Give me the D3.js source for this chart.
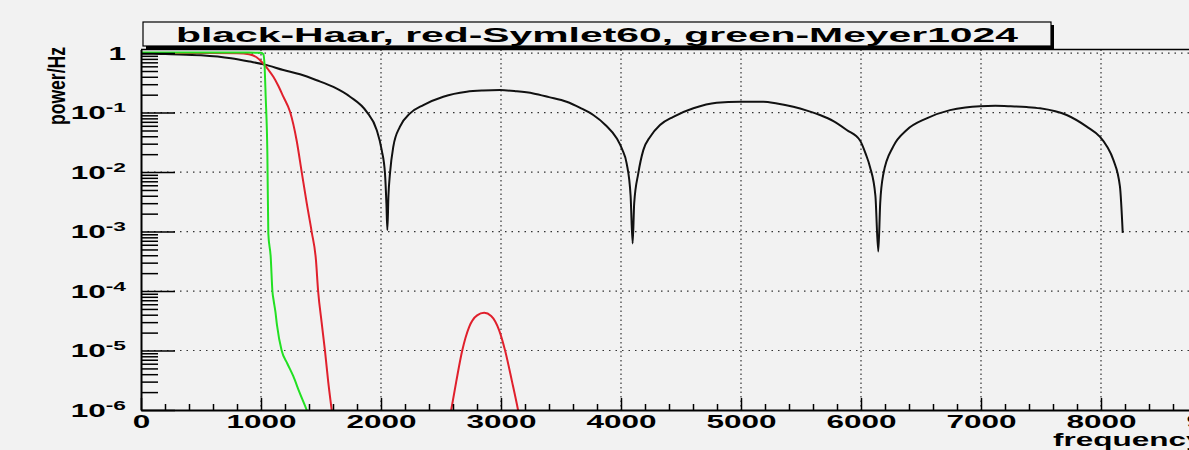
<!DOCTYPE html>
<html>
<head>
<meta charset="utf-8">
<script src="https://cdn.jsdelivr.net/npm/d3@7"></script>
<style>
  body { margin: 0; background: #f2f2f2; }
  svg { display: block; }
  text { font-family: "Liberation Sans", Arial, sans-serif; font-weight: bold; fill: #000; }
</style>
</head>
<body>
<svg id="chart"></svg>
<script>
// Data: [frequency, power/Hz]
const haarPoints = [
  [0, 0.98], [100, 0.98], [250, 0.96], [500, 0.92], [750, 0.82], [908, 0.72],
  [1033, 0.64], [1186, 0.52], [1325, 0.44], [1464, 0.35], [1603, 0.27], [1742, 0.185],
  [1881, 0.103], [1964, 0.051], [2006, 0.0234], [2033, 0.0096], [2045, 0.003], [2053, 0.00106],
  [2062, 0.004], [2075, 0.0096], [2103, 0.027], [2158, 0.058], [2242, 0.097], [2353, 0.134],
  [2519, 0.185], [2714, 0.224], [2850, 0.235], [2992, 0.239], [3130, 0.228], [3269, 0.21],
  [3400, 0.182], [3547, 0.152], [3660, 0.12], [3769, 0.091], [3870, 0.062], [3964, 0.037],
  [4010, 0.024], [4047, 0.014], [4080, 0.004], [4097, 0.00063], [4110, 0.003], [4144, 0.0095],
  [4186, 0.0234], [4242, 0.039], [4325, 0.062], [4436, 0.085], [4603, 0.118], [4797, 0.146],
  [4992, 0.152], [5186, 0.152], [5300, 0.142], [5436, 0.125], [5550, 0.108], [5658, 0.091],
  [5770, 0.072], [5881, 0.051], [5992, 0.034], [6040, 0.02], [6075, 0.0122], [6120, 0.004],
  [6144, 0.00046], [6160, 0.003], [6186, 0.0092], [6269, 0.027], [6381, 0.051], [6547, 0.08],
  [6742, 0.11], [6870, 0.122], [6992, 0.128], [7120, 0.13], [7242, 0.128], [7380, 0.124],
  [7492, 0.118], [7714, 0.091], [7881, 0.058], [7992, 0.039], [8050, 0.027], [8103, 0.016],
  [8158, 0.0057], [8181, 0.00095]
];

const symletPoints = [
  [0, 1.0], [300, 1.0], [600, 1.0], [800, 0.99], [900, 0.96], [960, 0.86], [1019, 0.67],
  [1060, 0.53], [1103, 0.4], [1145, 0.28], [1186, 0.185], [1242, 0.103], [1297, 0.034],
  [1339, 0.0101], [1381, 0.003], [1422, 0.001], [1458, 0.00033], [1476, 1e-4], [1505, 3e-5],
  [1533, 1e-5], [1560, 3e-6], [1589, 1e-6], [1620, 3e-7],
  [2000, null],
  [2560, 5e-7], [2585, 1e-6], [2627, 3e-6], [2677, 1e-5], [2735, 2.5e-5], [2801, 3.9e-5],
  [2860, 4.3e-5], [2918, 3.8e-5], [2984, 2.2e-5], [3034, 1e-5], [3092, 3e-6], [3142, 1e-6],
  [3170, 5e-7]
];

const meyerPoints = [
  [0, 1.02], [500, 1.02], [900, 1.02], [1000, 1.01], [1020, 0.95], [1030, 0.6], [1039, 0.185],
  [1053, 0.0205], [1061, 0.00093], [1081, 0.00037], [1095, 1e-4], [1105, 7e-5], [1120, 4.5e-5],
  [1133, 2.7e-5], [1172, 1e-5], [1220, 6e-6], [1269, 3.7e-6], [1320, 2e-6], [1381, 1e-6],
  [1420, 6e-7]
];

const freqTicks = [0, 1000, 2000, 3000, 4000, 5000, 6000, 7000, 8000, 9000];
const powerTicks = [1e-6, 1e-5, 1e-4, 1e-3, 1e-2, 1e-1, 1];
const titleText = "black-Haar, red-Symlet60, green-Meyer1024";

const W = 1189, H = 450;
const plotLeft = 141, plotBottom = 410, plotTop = 49.5;
const stretch = 1.75; // the picture is stretched sideways

const svg = d3.select("#chart").attr("width", W).attr("height", H);

svg.append("rect").attr("width", W).attr("height", H).attr("fill", "#f2f2f2");

const x = d3.scaleLinear().domain([0, 9800]).range([plotLeft, plotLeft + 9800 * 0.12]);
const y = d3.scaleLog().domain([1e-6, 1.15]).range([plotBottom, plotTop]);

svg.append("clipPath").attr("id", "plot")
  .append("rect").attr("x", plotLeft).attr("y", plotTop)
  .attr("width", W - plotLeft).attr("height", plotBottom - plotTop);

// dotted grid
const grid = svg.append("g").attr("stroke", "#333").attr("stroke-width", 1.2);
grid.selectAll(".gx").data(freqTicks.filter(d => d > 0)).join("line")
  .attr("stroke-dasharray", "1.5,3")
  .attr("x1", d => x(d)).attr("x2", d => x(d)).attr("y1", plotTop).attr("y2", plotBottom);
grid.selectAll(".gy").data(powerTicks.filter(d => d > 1e-6)).join("line")
  .attr("stroke-dasharray", "1.5,5")
  .attr("x1", plotLeft).attr("x2", W).attr("y1", d => y(d)).attr("y2", d => y(d));

// curves
const line = d3.line()
  .defined(d => d[1] != null)
  .curve(d3.curveMonotoneX)
  .x(d => x(d[0]))
  .y(d => y(d[1]));

const curves = svg.append("g").attr("clip-path", "url(#plot)").attr("fill", "none").attr("stroke-width", 2);
curves.append("path").attr("d", line(haarPoints)).attr("stroke", "#111");
curves.append("path").attr("d", line(symletPoints)).attr("stroke", "#e0202c");
curves.append("path").attr("d", line(meyerPoints)).attr("stroke", "#22e022");

// frame top
svg.append("line").attr("x1", plotLeft).attr("x2", W).attr("y1", plotTop).attr("y2", plotTop)
  .attr("stroke", "#000").attr("stroke-width", 1.5);

// x axis: minor ticks, then major ticks with labels
const minorX = d3.range(200, 9800, 200).filter(d => d % 1000 !== 0);
svg.append("g").attr("transform", `translate(0,${plotBottom})`)
  .call(d3.axisBottom(x).tickValues(minorX).tickSize(-6).tickSizeOuter(0).tickFormat(""))
  .call(g => g.select(".domain").remove())
  .selectAll("line").attr("stroke-width", 1.5);

const xAxis = svg.append("g").attr("transform", `translate(0,${plotBottom})`)
  .call(d3.axisBottom(x).tickValues(freqTicks).tickSize(-12).tickSizeOuter(0).tickFormat(d3.format("d")));
xAxis.attr("font-family", null);
xAxis.select(".domain").attr("stroke-width", 2);
xAxis.selectAll(".tick line").attr("stroke-width", 1.5);
xAxis.selectAll(".tick text")
  .attr("y", 18).attr("dy", 0)
  .attr("font-size", 18)
  .attr("transform", `scale(${stretch},1)`);

// y axis
const minorY = [];
for (let k = -6; k < 0; k++) for (let m = 2; m <= 9; m++) minorY.push(m * Math.pow(10, k));
svg.append("g").attr("transform", `translate(${plotLeft},0)`)
  .call(d3.axisLeft(y).tickValues(minorY).tickSize(-17).tickSizeOuter(0).tickFormat(""))
  .call(g => g.select(".domain").remove())
  .selectAll("line").attr("stroke-width", 1.5);

const yAxis = svg.append("g").attr("transform", `translate(${plotLeft},0)`)
  .call(d3.axisLeft(y).tickValues(powerTicks).tickSize(-34).tickSizeOuter(0).tickFormat(() => ""));
yAxis.attr("font-family", null);
yAxis.select(".domain").attr("stroke-width", 2);
yAxis.selectAll(".tick line").attr("stroke-width", 1.5);
yAxis.selectAll(".tick text")
  .attr("x", -15 / stretch)
  .attr("dy", "0.35em")
  .attr("font-size", 18)
  .attr("transform", `scale(${stretch},1)`)
  .each(function(d) {
    const t = d3.select(this);
    const e = Math.round(Math.log10(d));
    if (e === 0) { t.append("tspan").text("1"); return; }
    t.append("tspan").text("10");
    t.append("tspan").attr("font-size", 13).attr("dy", -7).text(String(e));
  });

// title box with shadow
const box = { x: 143, y: 22, w: 908, h: 24 };
svg.append("rect").attr("x", box.x + 3).attr("y", box.y + 3).attr("width", box.w).attr("height", box.h).attr("fill", "#000");
svg.append("rect").attr("x", box.x).attr("y", box.y).attr("width", box.w).attr("height", box.h)
  .attr("fill", "#f2f2f2").attr("stroke", "#000").attr("stroke-width", 1.2);
svg.append("text").attr("x", box.x + box.w / 2).attr("y", 42)
  .attr("text-anchor", "middle").attr("font-size", 21)
  .attr("textLength", 842).attr("lengthAdjust", "spacingAndGlyphs")
  .text(titleText);

// axis titles
svg.append("text").attr("transform", `translate(65,86) rotate(-90) scale(1,1.6)`)
  .attr("text-anchor", "middle").attr("font-size", 15)
  .attr("textLength", 78).attr("lengthAdjust", "spacingAndGlyphs")
  .text("power/Hz");

svg.append("text").attr("transform", `translate(1053,446) scale(${stretch},1)`)
  .attr("font-size", 18)
  .text("frequency");
</script>
</body>
</html>
